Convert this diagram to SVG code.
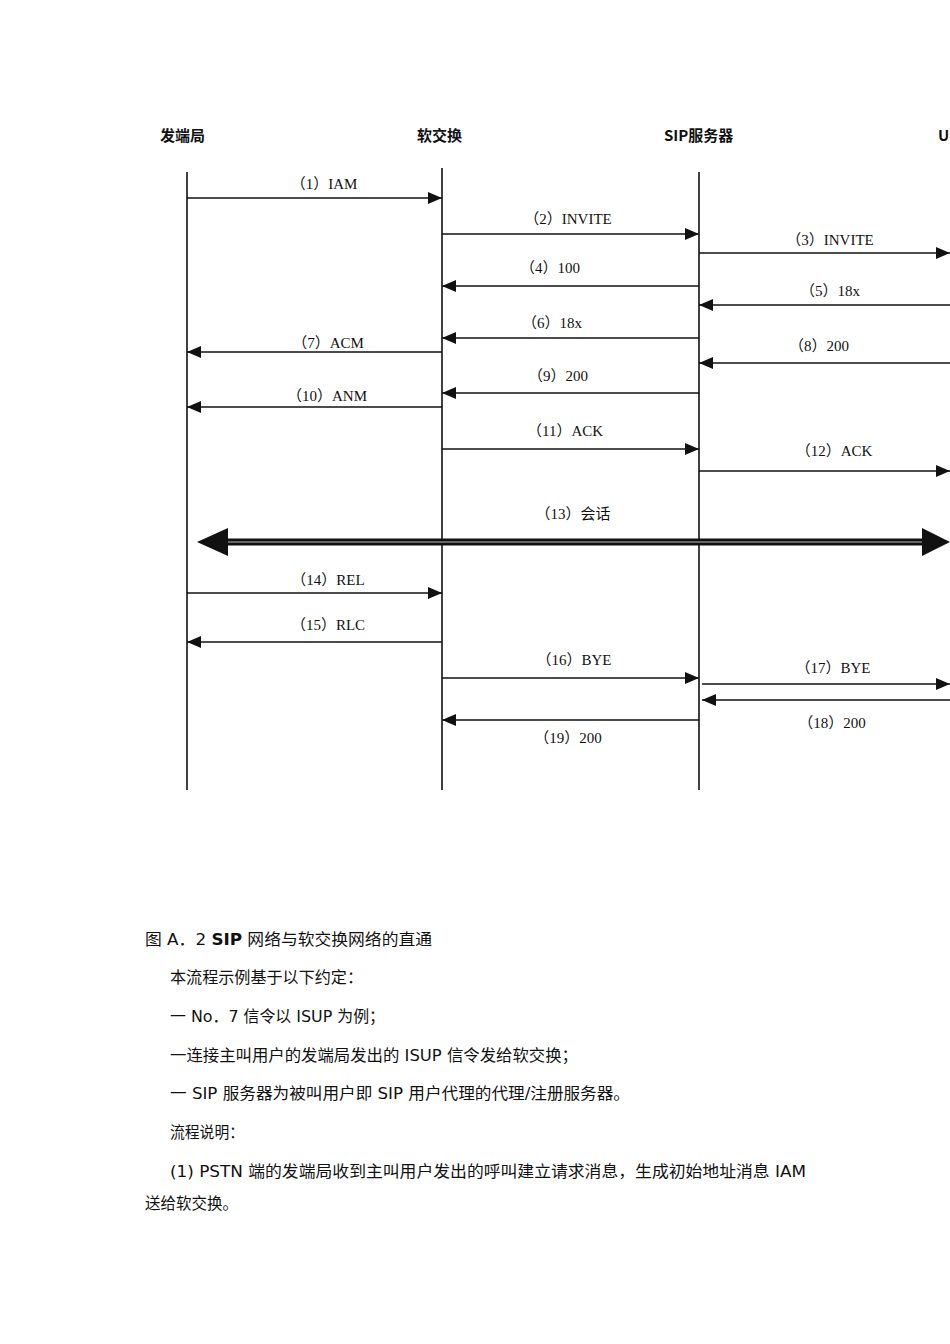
<svg xmlns="http://www.w3.org/2000/svg" width="950" height="1344" viewBox="0 0 950 1344">
<style>
.hd{font-family:"Noto Sans CJK SC","Noto Sans CJK JP",sans-serif;font-size:15px;font-weight:bold;fill:#111}
.lb{font-family:"Liberation Serif","Noto Sans CJK SC",serif;font-size:15px;fill:#111}
.life{stroke:#111;stroke-width:1.6;fill:none}
.msg{stroke:#111;stroke-width:1.6;fill:none;marker-end:url(#ah)}
.tx{font-family:"DejaVu Sans","Noto Sans CJK SC",sans-serif;font-size:16px;fill:#111}
</style>
<defs>
<marker id="ah" markerUnits="userSpaceOnUse" markerWidth="16" markerHeight="12" refX="14" refY="6" orient="auto">
<path d="M0,0 L14,6 L0,12 z" fill="#111"/>
</marker>
</defs>
<rect width="950" height="1344" fill="#fff"/>
<g id="node-fadj">
<text class="hd" x="160" y="141">发端局</text>
<line class="life" x1="187" y1="172" x2="187" y2="790"/>
</g>
<g id="node-soft">
<text class="hd" x="417" y="141">软交换</text>
<line class="life" x1="442" y1="168" x2="442" y2="790"/>
</g>
<g id="node-sip">
<text class="hd" x="664" y="141">SIP服务器</text>
<line class="life" x1="699" y1="172" x2="699" y2="790"/>
</g>
<g id="node-ua">
<text class="hd" x="938" y="141">U</text>
</g>
<g id="connectors">
<line class="msg" x1="187" y1="198" x2="442" y2="198"/>
<text class="lb" x="324" y="189" text-anchor="middle">（1）IAM</text>
<line class="msg" x1="442" y1="234" x2="699" y2="234"/>
<text class="lb" x="568" y="224" text-anchor="middle">（2）INVITE</text>
<line class="msg" x1="699" y1="253" x2="950" y2="253"/>
<text class="lb" x="830" y="245" text-anchor="middle">（3）INVITE</text>
<line class="msg" x1="699" y1="286" x2="442" y2="286"/>
<text class="lb" x="550" y="273" text-anchor="middle">（4）100</text>
<line class="msg" x1="950" y1="305" x2="699" y2="305"/>
<text class="lb" x="830" y="296" text-anchor="middle">（5）18x</text>
<line class="msg" x1="699" y1="338" x2="442" y2="338"/>
<text class="lb" x="552" y="328" text-anchor="middle">（6）18x</text>
<line class="msg" x1="442" y1="352" x2="187" y2="352"/>
<text class="lb" x="328" y="348" text-anchor="middle">（7）ACM</text>
<line class="msg" x1="950" y1="363" x2="699" y2="363"/>
<text class="lb" x="819" y="351" text-anchor="middle">（8）200</text>
<line class="msg" x1="699" y1="393" x2="442" y2="393"/>
<text class="lb" x="558" y="381" text-anchor="middle">（9）200</text>
<line class="msg" x1="442" y1="407" x2="187" y2="407"/>
<text class="lb" x="327" y="401" text-anchor="middle">（10）ANM</text>
<line class="msg" x1="442" y1="449" x2="699" y2="449"/>
<text class="lb" x="565" y="436" text-anchor="middle">（11）ACK</text>
<line class="msg" x1="699" y1="471" x2="950" y2="471"/>
<text class="lb" x="834" y="456" text-anchor="middle">（12）ACK</text>
<line x1="222" y1="542" x2="928" y2="542" stroke="#111" stroke-width="7"/>
<line x1="222" y1="542" x2="928" y2="542" stroke="#bbb" stroke-width="1.2"/>
<path d="M197,542 L228,528 L228,556 z" fill="#111"/>
<path d="M950,542 L922,528 L922,556 z" fill="#111"/>
<text class="lb" x="573" y="519" text-anchor="middle">（13）会话</text>
<line class="msg" x1="187" y1="593" x2="442" y2="593"/>
<text class="lb" x="328" y="585" text-anchor="middle">（14）REL</text>
<line class="msg" x1="442" y1="642" x2="187" y2="642"/>
<text class="lb" x="328" y="630" text-anchor="middle">（15）RLC</text>
<line class="msg" x1="442" y1="678" x2="699" y2="678"/>
<text class="lb" x="574" y="665" text-anchor="middle">（16）BYE</text>
<line class="msg" x1="702" y1="684" x2="950" y2="684"/>
<text class="lb" x="833" y="673" text-anchor="middle">（17）BYE</text>
<line class="msg" x1="950" y1="700" x2="702" y2="700"/>
<text class="lb" x="832" y="728" text-anchor="middle">（18）200</text>
<line class="msg" x1="699" y1="720" x2="442" y2="720"/>
<text class="lb" x="568" y="743" text-anchor="middle">（19）200</text>
</g>
<g id="caption">
<text class="tx" x="145" y="945" textLength="287" lengthAdjust="spacingAndGlyphs">图 A．2 <tspan font-weight="bold">SIP</tspan> 网络与软交换网络的直通</text>
<text class="tx" x="170" y="983" textLength="193" lengthAdjust="spacingAndGlyphs">本流程示例基于以下约定：</text>
<text class="tx" x="170" y="1022" textLength="215" lengthAdjust="spacingAndGlyphs">一 No．7 信令以 ISUP 为例；</text>
<text class="tx" x="170" y="1061" textLength="408" lengthAdjust="spacingAndGlyphs">一连接主叫用户的发端局发出的 ISUP 信令发给软交换；</text>
<text class="tx" x="170" y="1099" textLength="460" lengthAdjust="spacingAndGlyphs">一 SIP 服务器为被叫用户即 SIP 用户代理的代理/注册服务器。</text>
<text class="tx" x="170" y="1138" textLength="74" lengthAdjust="spacingAndGlyphs">流程说明：</text>
<text class="tx" x="170" y="1177" textLength="636" lengthAdjust="spacingAndGlyphs">(1) PSTN 端的发端局收到主叫用户发出的呼叫建立请求消息，生成初始地址消息 IAM</text>
<text class="tx" x="145" y="1209" textLength="93" lengthAdjust="spacingAndGlyphs">送给软交换。</text>
</g>
</svg>
